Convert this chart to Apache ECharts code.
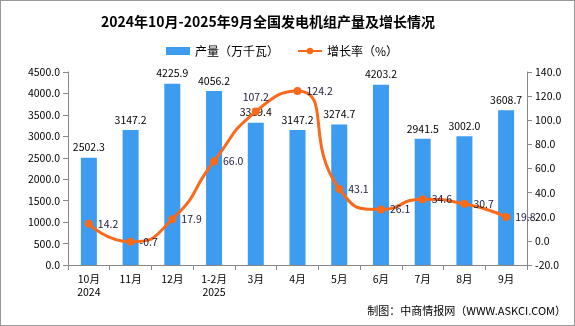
<!DOCTYPE html>
<html><head><meta charset="utf-8">
<script src="https://cdn.jsdelivr.net/npm/echarts@6/dist/echarts.min.js"></script>
<style>html,body{margin:0;padding:0;background:#fff}#c{width:575px;height:326px;box-sizing:border-box;border:1px solid #999}</style>
</head><body><div id="c"></div>
<script>
const categories = ['10月\n2024','11月','12月','1-2月\n2025','3月','4月','5月','6月','7月','8月','9月'];
const output = [2502.3,3147.2,4225.9,4056.2,3319.4,3147.2,3274.7,4203.2,2941.5,3002.0,3608.7];
const growth = [14.2,-0.7,17.9,66.0,107.2,124.2,43.1,26.1,34.6,30.7,19.8];
const font = '"Noto Sans CJK SC", sans-serif';
const chart = echarts.init(document.getElementById('c'));
chart.setOption({
  animation:false,
  textStyle:{fontFamily:font},
  title:{text:'2024年10月-2025年9月全国发电机组产量及增长情况',left:262,top:9,textAlign:'center',
    textStyle:{fontFamily:font,fontSize:14,fontWeight:'bold',color:'#000'}},
  legend:{top:39,left:160,itemGap:18,itemWidth:24,itemHeight:8,
    textStyle:{fontFamily:font,fontSize:12,color:'#000'},
    data:[{name:'产量（万千瓦）',icon:'rect'},{name:'增长率（%）'}]},
  graphic:[{type:'text',right:8,top:304,style:{text:'制图：中商情报网（WWW.ASKCI.COM）',font:'11px '+font,fill:'#000'}}],
  grid:{left:67,right:47,top:71,bottom:60},
  xAxis:{type:'category',data:categories,
    axisLine:{lineStyle:{color:'#888'}},axisTick:{show:true,alignWithLabel:false,lineStyle:{color:'#888'}},
    axisLabel:{color:'#000',fontSize:10.5,lineHeight:13,margin:8,interval:0}},
  yAxis:[
    {type:'value',min:0,max:4500,interval:500,splitLine:{show:false},
     axisLine:{show:true,lineStyle:{color:'#888'}},axisTick:{show:true,lineStyle:{color:'#888'}},
     axisLabel:{color:'#000',fontSize:10.5,formatter:v=>v.toFixed(1)}},
    {type:'value',min:-20,max:140,interval:20,splitLine:{show:false},
     axisLine:{show:true,lineStyle:{color:'#888'}},axisTick:{show:true,lineStyle:{color:'#888'}},
     axisLabel:{color:'#000',fontSize:10.5,formatter:v=>v.toFixed(1)}}
  ],
  series:[
    {name:'产量（万千瓦）',type:'bar',data:output,barWidth:16,itemStyle:{color:'#3D9CEF'},
     label:{show:true,position:'top',color:'#000',fontSize:10.5,formatter:p=>p.value.toFixed(1)}},
    {name:'增长率（%）',type:'line',yAxisIndex:1,smooth:0.6,data:growth.map((v,i)=>i===4?{value:v,label:{position:'top'}}:v),
     symbol:'circle',symbolSize:8,itemStyle:{color:'#F96A1B'},lineStyle:{color:'#F96A1B',width:3},
     label:{show:true,position:'right',color:'#1a1a3a',fontSize:10.5,formatter:p=>p.value.toFixed(1)}}
  ]
});
</script></body></html>
